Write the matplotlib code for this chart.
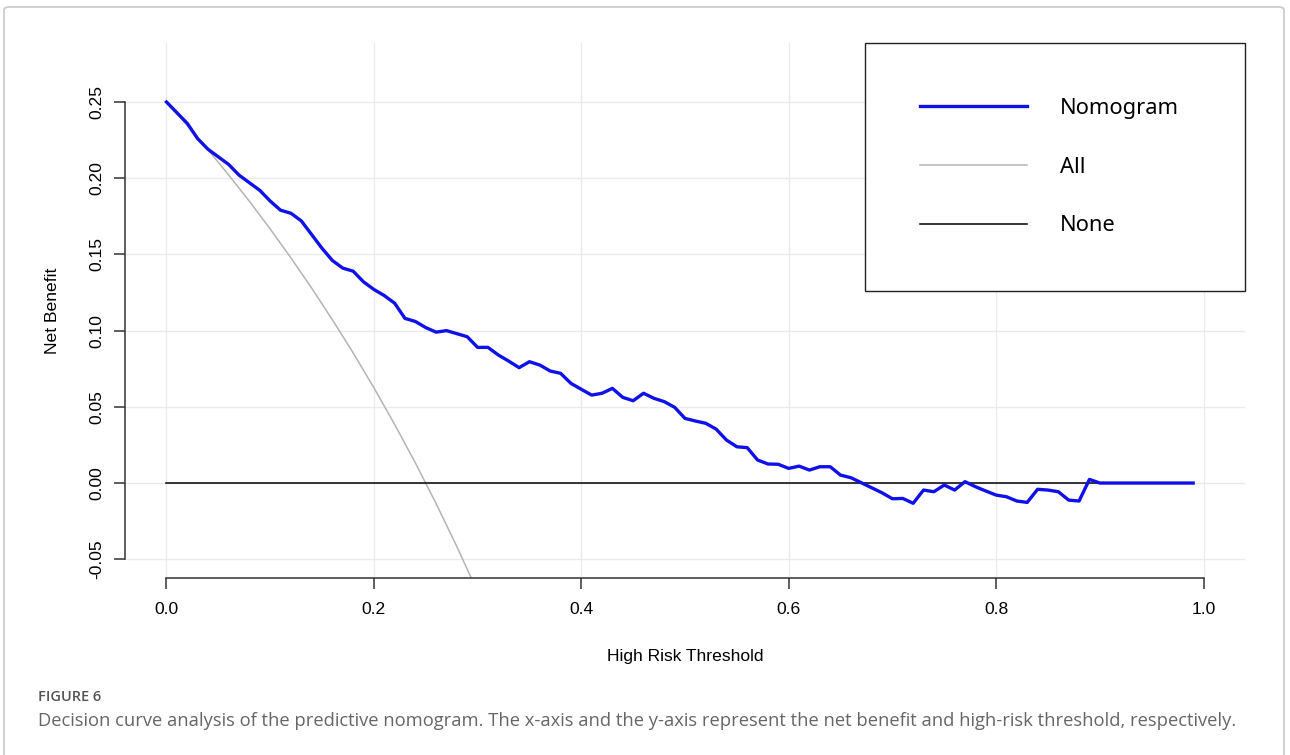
import numpy as np
import matplotlib.pyplot as plt
from matplotlib.patches import FancyBboxPatch

# threshold grid and curves
threshold = np.round(np.arange(0, 1.0, 0.01), 2)
nomogram = [
    0.250, 0.243, 0.236, 0.226, 0.219, 0.214, 0.209, 0.202, 0.197, 0.192,
    0.185, 0.179, 0.177, 0.172, 0.163, 0.154, 0.146, 0.141, 0.139, 0.132,
    0.127, 0.123, 0.118, 0.108, 0.106, 0.102, 0.099, 0.100, 0.098, 0.096,
    0.089, 0.089, 0.084, 0.080, 0.0757, 0.0796, 0.0774, 0.0735, 0.072, 0.0654,
    0.0615, 0.0577, 0.0589, 0.0621, 0.0562, 0.054, 0.0589, 0.0556, 0.0534, 0.0497,
    0.0424, 0.0407, 0.0392, 0.0354, 0.0282, 0.0238, 0.0232, 0.0151, 0.0125, 0.0123,
    0.0096, 0.0111, 0.0085, 0.0107, 0.0107, 0.0052, 0.0035, 0.0002, -0.0031, -0.0064,
    -0.0103, -0.0101, -0.0133, -0.0046, -0.0057, -0.0013, -0.0046, 0.0009, -0.0024, -0.0052,
    -0.0079, -0.0090, -0.0118, -0.0127, -0.0041, -0.0046, -0.0057, -0.0112, -0.0118, 0.0024,
    0.0, 0.0, 0.0, 0.0, 0.0, 0.0, 0.0, 0.0, 0.0, 0.0,
]

all_x = [0.00, 0.02, 0.04, 0.06, 0.08, 0.10, 0.12, 0.14, 0.16, 0.18,
         0.20, 0.22, 0.24, 0.26, 0.28, 0.30]
all_y = [0.250, 0.2347, 0.2187, 0.2021, 0.1848, 0.1667, 0.1477, 0.1279, 0.1071, 0.0854,
         0.0625, 0.0385, 0.0132, -0.0135, -0.0417, -0.0714]

none_x = [0.0, 0.99]
none_y = [0.0, 0.0]

xticks = [0.0, 0.2, 0.4, 0.6, 0.8, 1.0]
yticks = [-0.05, 0.00, 0.05, 0.10, 0.15, 0.20, 0.25]

caption_head = "FIGURE 6"
caption = ("Decision curve analysis of the predictive nomogram. The x-axis and the y-axis "
           "represent the net benefit and high-risk threshold, respectively.")

plt.rcParams['font.family'] = ['Liberation Sans', 'DejaVu Sans']

fig = plt.figure(figsize=(12.9, 7.55), dpi=100)

# outer frame of the figure panel
frame = FancyBboxPatch((4 / 1290, -0.05), 1280 / 1290, 1.05 - 7 / 755,
                       boxstyle="round,pad=0,rounding_size=0.004",
                       transform=fig.transFigure, facecolor='none',
                       edgecolor='#c8c8c8', linewidth=1.2)
fig.patches.append(frame)

ax = fig.add_axes([125 / 1290, 1 - 578 / 755, 1120 / 1290, 535 / 755])

ax.plot(all_x, all_y, color='#b4b4b4', lw=1.1, label='All', zorder=2)
ax.plot(none_x, none_y, color='black', lw=1.1, label='None', zorder=2)
ax.plot(threshold, nomogram, color='#1010e8', lw=2.4, label='Nomogram', zorder=3)

ax.set_xlim(-0.04, 1.04)
ax.set_ylim(-0.0623, 0.2887)
ax.set_xticks(xticks)
ax.set_yticks(yticks)
ax.set_xticklabels(['0.0', '0.2', '0.4', '0.6', '0.8', '1.0'])
ax.set_yticklabels(['-0.05', '0.00', '0.05', '0.10', '0.15', '0.20', '0.25'],
                   rotation=90, va='center')
ax.grid(True, color='#ebebeb', lw=1.0)
ax.set_axisbelow(True)

for s in ['top', 'right']:
    ax.spines[s].set_visible(False)
ax.spines['left'].set_bounds(-0.05, 0.25)
ax.spines['bottom'].set_bounds(0, 1)
for s in ['left', 'bottom']:
    ax.spines[s].set_color('#333333')
    ax.spines[s].set_linewidth(1.1)
ax.tick_params(axis='both', colors='#333333', labelcolor='black', labelsize=12.6,
               length=8, width=1.1)
ax.tick_params(axis='x', pad=9)
ax.tick_params(axis='y', pad=7)

ax.set_xlabel('High Risk Threshold', fontsize=12.6, labelpad=23)
ax.set_ylabel('Net Benefit', fontsize=12.6, labelpad=21)

handles, labels = ax.get_legend_handles_labels()
order = [2, 0, 1]
leg = ax.legend([handles[i] for i in order], [labels[i] for i in order],
                loc='upper left',
                bbox_to_anchor=(865 / 1290, 1 - 43 / 755 - 0.01, 380 / 1290, 0.01),
                bbox_transform=fig.transFigure, mode='expand',
                prop={'family': 'Noto Sans', 'size': 15.8},
                handlelength=4.9, handletextpad=1.5, borderpad=2.5,
                labelspacing=1.72, borderaxespad=0, fancybox=False,
                framealpha=1, edgecolor='#222222')
leg.get_frame().set_linewidth(1.0)

fig.text(38 / 1290, 1 - 697 / 755, caption_head, fontsize=10.5, color='#555555',
         family='Open Sans', fontweight='semibold', va='center')
fig.text(38 / 1290, 1 - 721 / 755, caption, fontsize=13.2, color='#666666',
         family='Open Sans', va='center')

fig.savefig('out.png', dpi=100)
